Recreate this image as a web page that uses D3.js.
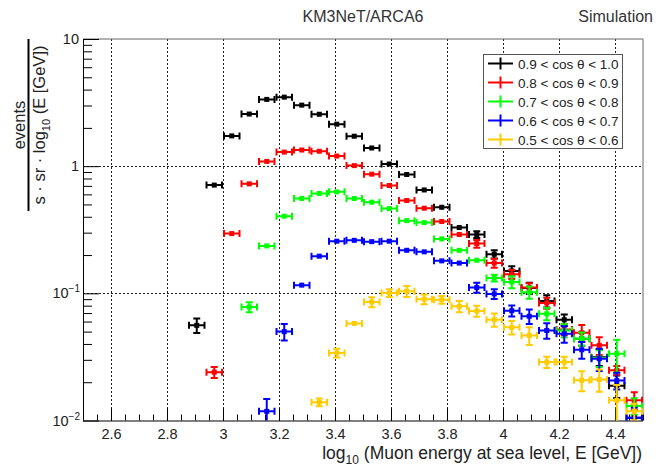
<!DOCTYPE html>
<html>
<head>
<meta charset="utf-8">
<script src="https://cdn.jsdelivr.net/npm/d3@7"></script>
<style>
body { margin: 0; background: #fff; }
svg { display: block; font-family: "Liberation Sans", Arial, Helvetica, sans-serif; }
</style>
</head>
<body>
<div id="chart"></div>
<script>
// bin centres (bin width 0.0625 in log10 E)
const energyBins = [2.90625, 2.96875, 3.03125, 3.09375, 3.15625, 3.21875, 3.28125, 3.34375,
  3.40625, 3.46875, 3.53125, 3.59375, 3.65625, 3.71875, 3.78125, 3.84375, 3.90625, 3.96875,
  4.03125, 4.09375, 4.15625, 4.21875, 4.28125, 4.34375, 4.40625, 4.46875];
const binHalfWidth = 0.03125;

// rates per bin, null = empty bin
const cos09to10 = [0.056, 0.71, 1.73, 2.57, 3.35, 3.49, 3.02, 2.56, 2.14, 1.72, 1.39, 1.04, 0.86,
  0.65, 0.475, 0.329, 0.29, 0.203, 0.15, 0.11, 0.087, 0.062, 0.044, 0.0315, 0.0188, 0.0105];
const cos08to09 = [null, 0.024, 0.295, 0.726, 1.09, 1.29, 1.34, 1.31, 1.2, 1.01, 0.865, 0.705, 0.537,
  0.467, 0.367, 0.29, 0.246, 0.173, 0.141, 0.111, 0.084, 0.052, 0.049, 0.039, 0.0248, 0.0144];
const cos07to08 = [null, null, null, 0.078, 0.236, 0.404, 0.557, 0.61, 0.628, 0.557, 0.521, 0.464, 0.373,
  0.36, 0.268, 0.218, 0.182, 0.132, 0.123, 0.102, 0.069, 0.051, 0.044, 0.031, 0.0335, 0.013];
const cos06to07 = [null, null, null, null, 0.0118, 0.05, 0.116, 0.196, 0.257, 0.261, 0.255, 0.257, 0.218,
  0.212, 0.18, 0.173, 0.111, 0.099, 0.073, 0.066, 0.051, 0.048, 0.036, 0.0306, 0.0206, 0.0105];
const cos05to06 = [null, null, null, null, null, null, null, 0.0139, 0.034, 0.058, 0.0855, 0.1006, 0.104,
  0.09, 0.089, 0.079, 0.0726, 0.062, 0.054, 0.0467, 0.0288, 0.0288, 0.0207, 0.021, 0.0144, 0.0118];

// relative statistical errors
const err09to10 = [0.13, 0.03, 0.02, 0.02, 0.02, 0.02, 0.02, 0.02, 0.02, 0.02, 0.02, 0.02, 0.03,
  0.03, 0.03, 0.04, 0.06, 0.075, 0.09, 0.1, 0.11, 0.1, 0.12, 0.15, 0.2, 0.25];
const err08to09 = [null, 0.1, 0.04, 0.03, 0.02, 0.02, 0.02, 0.02, 0.02, 0.02, 0.02, 0.03, 0.03,
  0.03, 0.03, 0.05, 0.07, 0.08, 0.08, 0.08, 0.1, 0.1, 0.15, 0.16, 0.08, 0.16];
const err07to08 = [null, null, null, 0.09, 0.04, 0.03, 0.03, 0.03, 0.03, 0.03, 0.03, 0.03, 0.03,
  0.03, 0.03, 0.04, 0.05, 0.06, 0.11, 0.11, 0.11, 0.12, 0.12, 0.15, 0.29, 0.15];
const err06to07 = [null, null, null, null, 0.25, 0.15, 0.05, 0.05, 0.03, 0.03, 0.03, 0.03, 0.03,
  0.03, 0.04, 0.04, 0.09, 0.09, 0.1, 0.13, 0.14, 0.15, 0.15, 0.2, 0.15, 0.2];
const err05to06 = [null, null, null, null, null, null, null, 0.07, 0.08, 0.05, 0.09, 0.07, 0.1,
  0.09, 0.07, 0.1, 0.1, 0.12, 0.12, 0.16, 0.1, 0.1, 0.18, 0.2, 0.32, 0.15];

const seriesLabels = ["0.9 < cos θ < 1.0", "0.8 < cos θ < 0.9", "0.7 < cos θ < 0.8",
  "0.6 < cos θ < 0.7", "0.5 < cos θ < 0.6"];
const seriesColors = ["#000000", "#ff0000", "#00ff00", "#0000ff", "#ffcc00"];
const seriesValues = [cos09to10, cos08to09, cos07to08, cos06to07, cos05to06];
const seriesErrors = [err09to10, err08to09, err07to08, err06to07, err05to06];

const xTickValues = [2.6, 2.8, 3.0, 3.2, 3.4, 3.6, 3.8, 4.0, 4.2, 4.4];
const xTickLabels = ["2.6", "2.8", "3", "3.2", "3.4", "3.6", "3.8", "4", "4.2", "4.4"];
const yTickValues = [0.01, 0.1, 1, 10];
const yTickBase = ["10", "10", "1", "10"];
const yTickExp = ["\u22122", "\u22121", "", ""];

const W = 661, H = 471;
const frame = {left: 83, right: 643, top: 39, bottom: 420.5};

const svg = d3.select("#chart").append("svg")
  .attr("width", W).attr("height", H);

const x = d3.scaleLinear().domain([2.5, 4.5]).range([frame.left, frame.right]);
const y = d3.scaleLog().domain([0.01, 10]).range([frame.bottom, frame.top]);

svg.append("defs").append("clipPath").attr("id", "frameClip")
  .append("rect")
  .attr("x", frame.left).attr("y", frame.top)
  .attr("width", frame.right - frame.left).attr("height", frame.bottom - frame.top);

// grid
const grid = svg.append("g").attr("stroke", "#222").attr("stroke-width", 1)
  .attr("stroke-dasharray", "2,2");
grid.selectAll(".gx").data(xTickValues).join("line")
  .attr("x1", d => Math.round(x(d)) + 0.5).attr("x2", d => Math.round(x(d)) + 0.5)
  .attr("y1", frame.top).attr("y2", frame.bottom);
grid.selectAll(".gy").data([0.1, 1]).join("line")
  .attr("x1", frame.left).attr("x2", frame.right)
  .attr("y1", d => Math.round(y(d)) + 0.5).attr("y2", d => Math.round(y(d)) + 0.5);

// frame top/right
svg.append("path")
  .attr("d", `M${frame.left},${frame.top}H${frame.right}V${frame.bottom}`)
  .attr("fill", "none").attr("stroke", "#666").attr("stroke-width", 1);

// x axis
const xMinor = d3.range(0, 41).map(i => 2.5 + i * 0.05);
svg.append("g")
  .attr("transform", `translate(0,${frame.bottom})`)
  .call(d3.axisBottom(x).tickValues(xMinor).tickSize(-6).tickSizeOuter(0).tickFormat(""))
  .call(g => g.select(".domain").remove());
const xAxisG = svg.append("g")
  .attr("transform", `translate(0,${frame.bottom})`)
  .call(d3.axisBottom(x).tickValues(xTickValues).tickSize(-12).tickSizeOuter(0)
    .tickPadding(8).tickFormat((d, i) => xTickLabels[i]));
xAxisG.select(".domain").attr("stroke", "#000").attr("d", `M${frame.left},0.5H${frame.right}`);
xAxisG.selectAll("text").attr("font-size", 14.5).attr("fill", "#222")
  .attr("font-family", "'Liberation Sans', Arial, sans-serif");

// y axis
const yMinor = [];
[0.01, 0.1, 1].forEach(dec => { for (let k = 2; k <= 9; k++) yMinor.push(dec * k); });
svg.append("g")
  .attr("transform", `translate(${frame.left},0)`)
  .call(d3.axisLeft(y).tickValues(yMinor).tickSize(-9).tickSizeOuter(0).tickFormat(""))
  .call(g => g.select(".domain").remove());
const yAxisG = svg.append("g")
  .attr("transform", `translate(${frame.left},0)`)
  .call(d3.axisLeft(y).tickValues(yTickValues).tickSize(-16).tickSizeOuter(0).tickFormat(""));
yAxisG.select(".domain").attr("d", `M0.5,${frame.top}V${frame.bottom}`);

const yLab = svg.append("g").attr("font-size", 14.5).attr("fill", "#222").attr("text-anchor", "end");
yTickValues.forEach((v, i) => {
  const t = yLab.append("text").attr("x", 79).attr("y", y(v) + 5);
  if (yTickExp[i]) {
    t.attr("x", 80);
    t.append("tspan").text(yTickBase[i]);
    t.append("tspan").attr("font-size", 10).attr("dy", -6).text(yTickExp[i]);
  } else {
    t.text(yTickBase[i]);
  }
});

// data points
const plot = svg.append("g").attr("clip-path", "url(#frameClip)");
const cap = 3.5, half = 2.5;
seriesValues.forEach((vals, s) => {
  const col = seriesColors[s];
  const pts = energyBins.map((b, i) => ({b, v: vals[i], e: seriesErrors[s][i]}))
    .filter(d => d.v !== null);
  const g = plot.append("g").attr("stroke", col).attr("fill", col).attr("stroke-width", 2);
  pts.forEach(d => {
    const cx = x(d.b), cy = y(d.v);
    const x0 = x(d.b - binHalfWidth), x1 = x(d.b + binHalfWidth);
    g.append("line").attr("x1", x0 + 1).attr("x2", x1 - 1).attr("y1", cy).attr("y2", cy);
    g.append("line").attr("x1", x0 + 1).attr("x2", x0 + 1).attr("y1", cy - cap).attr("y2", cy + cap);
    g.append("line").attr("x1", x1 - 1).attr("x2", x1 - 1).attr("y1", cy - cap).attr("y2", cy + cap);
    const err = d.v * d.e;
    const yTop = y(d.v + err);
    const yBot = d.v - err > 0.001 ? y(d.v - err) : frame.bottom + 10;
    if (cy - yTop > half + 0.5) {
      g.append("line").attr("x1", cx).attr("x2", cx).attr("y1", yTop).attr("y2", yBot);
      g.append("line").attr("x1", cx - cap).attr("x2", cx + cap).attr("y1", yTop).attr("y2", yTop);
      g.append("line").attr("x1", cx - cap).attr("x2", cx + cap).attr("y1", yBot).attr("y2", yBot);
    }
    g.append("rect").attr("stroke", "none")
      .attr("x", cx - half).attr("y", cy - half).attr("width", 2 * half).attr("height", 2 * half);
  });
});

// legend
const leg = svg.append("g");
leg.append("rect").attr("x", 483.5).attr("y", 54.5).attr("width", 139).attr("height", 94)
  .attr("fill", "#fff").attr("stroke", "#555").attr("stroke-width", 1);
seriesLabels.forEach((lab, i) => {
  const ry = 63.5 + i * 19;
  const r = leg.append("g").attr("stroke", seriesColors[i]).attr("stroke-width", 2);
  r.append("line").attr("x1", 488).attr("x2", 513).attr("y1", ry).attr("y2", ry);
  r.append("line").attr("x1", 500.5).attr("x2", 500.5).attr("y1", ry - 6).attr("y2", ry + 6);
  leg.append("text").attr("x", 518).attr("y", ry + 5).attr("font-size", 13.5)
    .attr("fill", "#222").text(lab);
});

// titles
svg.append("text").attr("x", (frame.left + frame.right) / 2).attr("y", 22)
  .attr("text-anchor", "middle").attr("font-size", 16).attr("fill", "#333").text("KM3NeT/ARCA6");
svg.append("text").attr("x", 653).attr("y", 22)
  .attr("text-anchor", "end").attr("font-size", 16).attr("fill", "#333").text("Simulation");

const xt = svg.append("text").attr("x", 642).attr("y", 459).attr("text-anchor", "end")
  .attr("font-size", 17.5).attr("fill", "#222");
xt.append("tspan").text("log");
xt.append("tspan").attr("font-size", 12).attr("dy", 5).text("10");
xt.append("tspan").attr("dy", -5).text(" (Muon energy at sea level, E [GeV])");

const yt = svg.append("g").attr("transform", "translate(0,125) rotate(-90)")
  .attr("font-size", 16.5).attr("fill", "#222").attr("text-anchor", "middle");
yt.append("text").attr("x", 0).attr("y", 25).text("events");
yt.append("line").attr("x1", -86).attr("x2", 86).attr("y1", 28.5).attr("y2", 28.5)
  .attr("stroke", "#000").attr("stroke-width", 2);
const den = yt.append("text").attr("x", 0).attr("y", 45);
den.append("tspan").text("s \u00b7 sr \u00b7 log");
den.append("tspan").attr("font-size", 11).attr("dy", 5).text("10");
den.append("tspan").attr("dy", -5).text(" (E [GeV])");
</script>
</body>
</html>
